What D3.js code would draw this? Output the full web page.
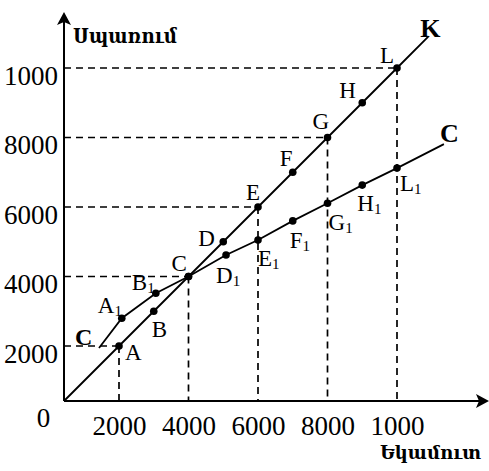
<!DOCTYPE html>
<html><head><meta charset="utf-8">
<script src="https://cdn.jsdelivr.net/npm/d3@7"></script>
<style>body{margin:0;background:#fff}svg{display:block}</style>
</head><body><svg id="c" width="489" height="471"></svg>
<script>
// ---- data ----
const xTickValues = [2000, 4000, 6000, 8000, 10000];
const xTickLabels = ["2000", "4000", "6000", "8000", "1000"];
const yTickValues = [2000, 4000, 6000, 8000, 10000];
const yTickLabels = ["2000", "4000", "6000", "8000", "1000"];
const kNames = ["A", "B", "C", "D", "E", "F", "G", "H", "L"];
const kIncome = [2000, 3000, 4000, 5000, 6000, 7000, 8000, 9000, 10000];
const kConsumption = [2000, 3000, 4000, 5000, 6000, 7000, 8000, 9000, 10000];
const kLineStart = [0, 0];
const kLineEnd = [10900, 10900];
const cNames = ["A1", "B1", "C", "D1", "E1", "F1", "G1", "H1", "L1"];
const cIncome = [2080, 3060, 4000, 5080, 6000, 7000, 8000, 9000, 10000];
const cConsumption = [2800, 3520, 4000, 4620, 5050, 5600, 6110, 6630, 7120];
const cLineStart = [1273, 1927];
const cLineEnd = [11350, 7810];
const guideValues = [2000, 4000, 6000, 8000, 10000];
const xTitle = "Եկամուտ";
const yTitle = "Սպառում";

// ---- styling ----
const labelOffsets = {A:[6,14], B:[-2,26], C:[-17,-6], D:[-25,4], E:[-12,-7], F:[-13,-6],
  G:[-15,-9], H:[-23,-5], L:[-17,-5], A1:[-24,-5], B1:[-24,-3], D1:[-10,28], E1:[0,26],
  F1:[-3,27], G1:[1,27], H1:[-5,26], L1:[3,23]};
const serif = "'Liberation Serif','Times New Roman','DejaVu Serif',serif";

const svg = d3.select("#c");
svg.append("rect").attr("width", 489).attr("height", 471).attr("fill", "#fff");

const x = d3.scaleLinear().domain([0, 2000, 10000]).range([64, 119, 397]);
const y = d3.scaleLinear().domain([0, 2000, 10000]).range([401, 346, 68]);

// guides
const g = svg.append("g").attr("stroke", "#000").attr("stroke-width", 1.7)
  .attr("stroke-dasharray", "7,5").attr("fill", "none");
guideValues.forEach(v => {
  g.append("line").attr("x1", x(0)).attr("y1", y(v)).attr("x2", x(v)).attr("y2", y(v));
  g.append("line").attr("x1", x(v)).attr("y1", y(v)).attr("x2", x(v)).attr("y2", y(0));
});

// lines
const line = d3.line().x(d => x(d[0])).y(d => y(d[1]));
const kPts = [kLineStart, ...kIncome.map((v, i) => [v, kConsumption[i]]), kLineEnd];
const cPts = [cLineStart, ...cIncome.map((v, i) => [v, cConsumption[i]]), cLineEnd];
svg.append("path").attr("d", line(kPts)).attr("fill", "none").attr("stroke", "#000").attr("stroke-width", 1.8);
svg.append("path").attr("d", line(cPts)).attr("fill", "none").attr("stroke", "#000").attr("stroke-width", 1.8);

// axes
const ax = svg.append("g").attr("transform", `translate(0,${y(0)})`)
  .call(d3.axisBottom(x).tickValues(xTickValues).tickFormat((d, i) => xTickLabels[i]).tickSize(0));
ax.select(".domain").remove();
ax.selectAll("text").attr("dy", null).attr("y", 34).attr("font-size", 27)
  .attr("font-family", serif).attr("fill", "#000");
const ay = svg.append("g").attr("transform", `translate(${x(0)},0)`)
  .call(d3.axisLeft(y).tickValues(yTickValues).tickFormat((d, i) => yTickLabels[i]).tickSize(0));
ay.select(".domain").remove();
ay.selectAll("text").attr("dy", null).attr("x", -6).attr("y", 16).attr("font-size", 27)
  .attr("font-family", serif).attr("fill", "#000");

svg.append("line").attr("x1", x(0)).attr("y1", y(0)).attr("x2", 480).attr("y2", y(0))
  .attr("stroke", "#000").attr("stroke-width", 2);
svg.append("line").attr("x1", x(0)).attr("y1", y(0)).attr("x2", x(0)).attr("y2", 20)
  .attr("stroke", "#000").attr("stroke-width", 2);
const x0 = x(0), y0 = y(0);
svg.append("path").attr("d", `M489,${y0} L476,${y0-7} L479,${y0} L476,${y0+7} Z`).attr("fill", "#000");
svg.append("path").attr("d", `M${x0},12 L${x0-7},25 L${x0},22 L${x0+7},25 Z`).attr("fill", "#000");

svg.append("text").attr("x", 43.5).attr("y", 427).attr("text-anchor", "middle")
  .attr("font-family", serif).attr("font-size", 27).text("0");

// dots
const allPts = kNames.map((n, i) => ({n, v: [kIncome[i], kConsumption[i]]}))
  .concat(cNames.map((n, i) => ({n, v: [cIncome[i], cConsumption[i]]})));
svg.selectAll("circle.pt").data(allPts).enter().append("circle").attr("class", "pt")
  .attr("cx", d => x(d.v[0])).attr("cy", d => y(d.v[1])).attr("r", 3.8).attr("fill", "#000");

// point labels
const seen = new Set();
allPts.forEach(d => {
  if (seen.has(d.n)) return; seen.add(d.n);
  const off = labelOffsets[d.n];
  const t = svg.append("text").attr("x", x(d.v[0]) + off[0]).attr("y", y(d.v[1]) + off[1])
    .attr("font-family", serif).attr("font-size", 23).attr("fill", "#000");
  t.append("tspan").text(d.n[0]);
  if (d.n.length > 1) t.append("tspan").attr("font-size", 15).attr("dy", 3).text(d.n.slice(1));
});

// curve labels
svg.append("text").attr("x", x(kLineEnd[0]) - 8).attr("y", y(kLineEnd[1]))
  .attr("font-family", serif).attr("font-weight", "bold").attr("font-size", 26).text("K");
svg.append("text").attr("x", x(cLineEnd[0]) - 4).attr("y", y(cLineEnd[1]) - 2)
  .attr("font-family", serif).attr("font-weight", "bold").attr("font-size", 26).text("C");
svg.append("text").attr("x", x(cLineStart[0]) - 24).attr("y", y(cLineStart[1]) - 3)
  .attr("font-family", serif).attr("font-weight", "bold").attr("font-size", 24).text("C");

// axis titles
svg.append("text").attr("x", 73).attr("y", 43).attr("font-family", serif).attr("font-weight", "bold")
  .attr("font-size", 20).attr("textLength", 104).attr("lengthAdjust", "spacingAndGlyphs").text(yTitle);
svg.append("text").attr("x", 380).attr("y", 459).attr("font-family", serif).attr("font-weight", "bold")
  .attr("font-size", 19).attr("textLength", 101).attr("lengthAdjust", "spacingAndGlyphs").text(xTitle);
</script></body></html>
